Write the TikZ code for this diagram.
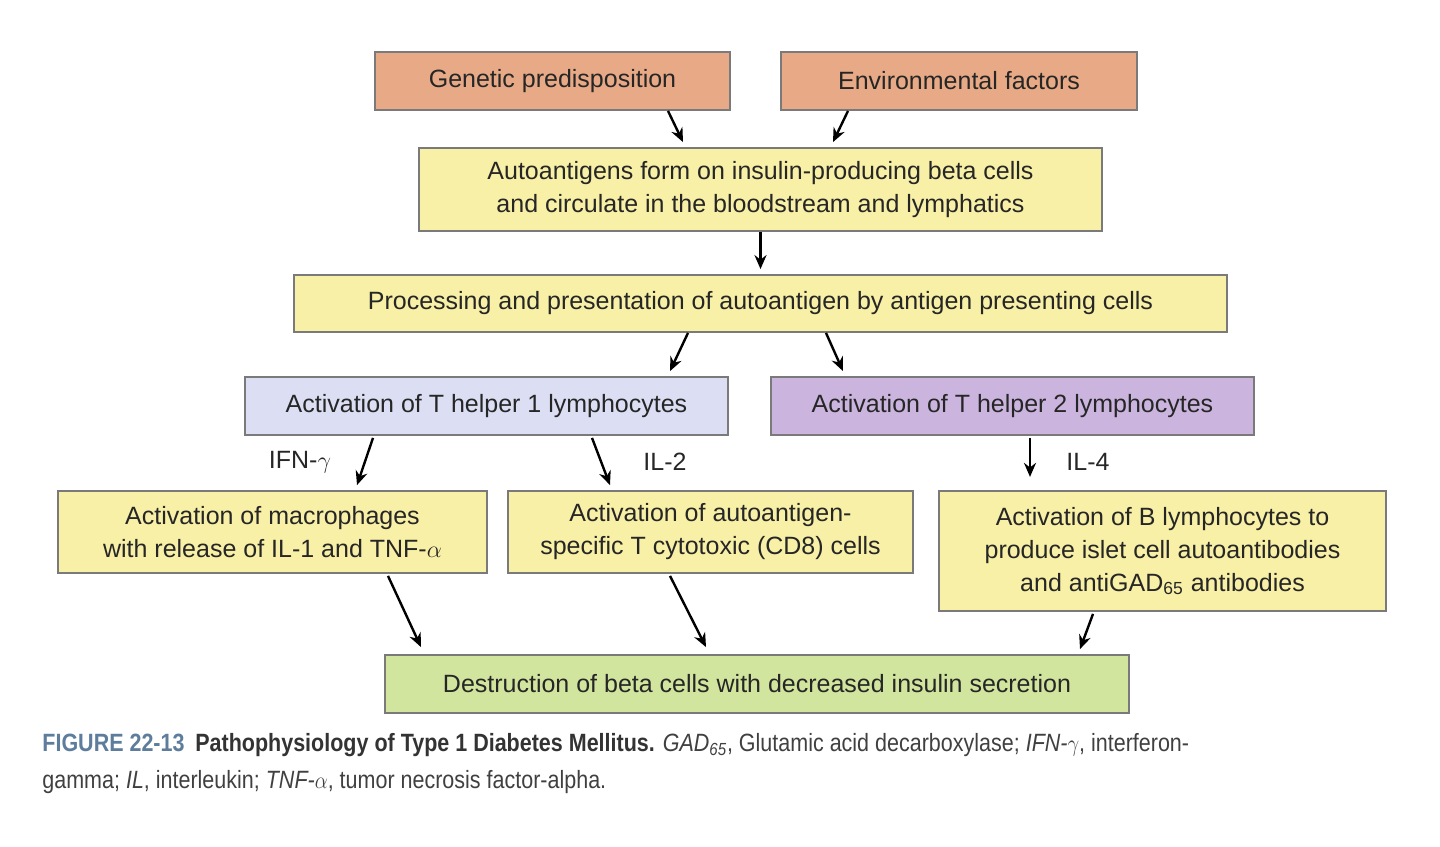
\documentclass[tikz,border=0pt]{standalone}
\usepackage{fontspec}
\setmainfont{Liberation Sans}
\usetikzlibrary{calc,arrows.meta}
\definecolor{orng}{HTML}{E8AA86}
\definecolor{yel}{HTML}{F8F0A6}
\definecolor{lblue}{HTML}{DCDFF3}
\definecolor{purp}{HTML}{CBB5DF}
\definecolor{grn}{HTML}{D2E59E}
\definecolor{capblue}{HTML}{5E7C9C}
\definecolor{edge}{HTML}{7A7A7A}
\begin{document}
\begin{tikzpicture}[x=0.5pt,y=-0.5pt,
 box/.style={draw=edge,line width=0.9pt,inner sep=0pt,align=center,font=\fontsize{12.5}{16.5}\selectfont,text=black!85},
 arr/.style={-{Stealth[length=7pt,width=6pt]},line width=1.2pt},
 lab/.style={font=\fontsize{12.5}{15}\selectfont,text=black!85}]
\useasboundingbox (0,0) rectangle (1440,846);
\node[box,fill=orng,minimum width=355pt*0.5*2/1,minimum width=177.5pt,minimum height=29pt] (gen) at (552.5,81) {Genetic predisposition};
\node[box,fill=orng,minimum width=178pt,minimum height=29pt] (env) at (959,81) {Environmental factors};
\node[box,fill=yel,minimum width=341.5pt,minimum height=41.5pt] (auto) at (760.5,189.5) {Autoantigens form on insulin-producing beta cells\\and circulate in the bloodstream and lymphatics};
\node[box,fill=yel,minimum width=466.5pt,minimum height=28.5pt] (proc) at (760.5,303.5) {Processing and presentation of autoantigen by antigen presenting cells};
\node[box,fill=lblue,minimum width=241.5pt,minimum height=29pt] (th1) at (486.5,406) {Activation of T helper 1 lymphocytes};
\node[box,fill=purp,minimum width=241.5pt,minimum height=29pt] (th2) at (1012.5,406) {Activation of T helper 2 lymphocytes};
\node[box,fill=yel,minimum width=214.5pt,minimum height=41pt] (mac) at (272.5,532) {Activation of macrophages\\with release of IL-1 and TNF-$\alpha$};
\node[box,fill=yel,minimum width=202.5pt,minimum height=41pt] (cd8) at (710.5,532) {Activation of autoantigen-\\specific T cytotoxic (CD8) cells};
\node[box,fill=yel,minimum width=223.5pt,minimum height=60pt] (bly) at (1162.5,551) {Activation of B lymphocytes to\\produce islet cell autoantibodies\\and antiGAD\textsubscript{65} antibodies};
\node[box,fill=grn,minimum width=372pt,minimum height=29pt] (dest) at (757,684) {Destruction of beta cells with decreased insulin secretion};
\draw[arr] ($(gen.south)+(115.5,0)$) -- ($(auto.north)+(-77.5,-5)$);
\draw[arr] ($(env.south)+(-111,0)$) -- ($(auto.north)+(72.5,-5)$);
\draw[arr] (auto.south) -- ($(proc.north)+(0,-5)$);
\draw[arr] ($(proc.south)+(-72.5,0)$) -- ($(th1.north)+(183.5,-5)$);
\draw[arr] ($(proc.south)+(65.5,0)$) -- ($(th2.north)+(-169.5,-5)$);
\draw[arr] ($(th1.south)+(-113.5,2)$) -- ($(mac.north)+(84.5,-5)$);
\draw[arr] ($(th1.south)+(105.5,2)$) -- ($(cd8.north)+(-100.5,-5)$);
\draw[arr] ($(th2.south)+(17.5,2)$) -- ($(th2.south)+(17.5,41)$);
\draw[arr] ($(mac.south)+(115.5,2)$) -- ($(dest.north)+(-336,-7)$);
\draw[arr] ($(cd8.south)+(-40.5,2)$) -- ($(dest.north)+(-51,-7)$);
\draw[arr] ($(bly.south)+(-69.5,2)$) -- ($(dest.north)+(323,-5)$);
\node[lab] (ifn) at (300,462) {IFN-$\gamma$};
\node[lab] (il2) at (665,462) {IL-2};
\node[lab] (il4) at (1088,462) {IL-4};
\node[anchor=west,inner sep=0pt,font=\fontsize{12.5}{15}\selectfont] (cap1) at (42,745) {\scalebox{0.86}[1]{\textbf{\color{capblue}FIGURE 22-13}\enspace\textbf{\color{black!80}Pathophysiology of Type 1 Diabetes Mellitus.} \color{black!75}\textit{GAD\textsubscript{65}}, Glutamic acid decarboxylase; \textit{IFN-$\gamma$}, interferon-}};
\node[anchor=west,inner sep=0pt,font=\fontsize{12.5}{15}\selectfont] (cap2) at (42,782) {\scalebox{0.86}[1]{\color{black!75}gamma; \textit{IL}, interleukin; \textit{TNF-$\alpha$}, tumor necrosis factor-alpha.}};
\end{tikzpicture}
\end{document}
